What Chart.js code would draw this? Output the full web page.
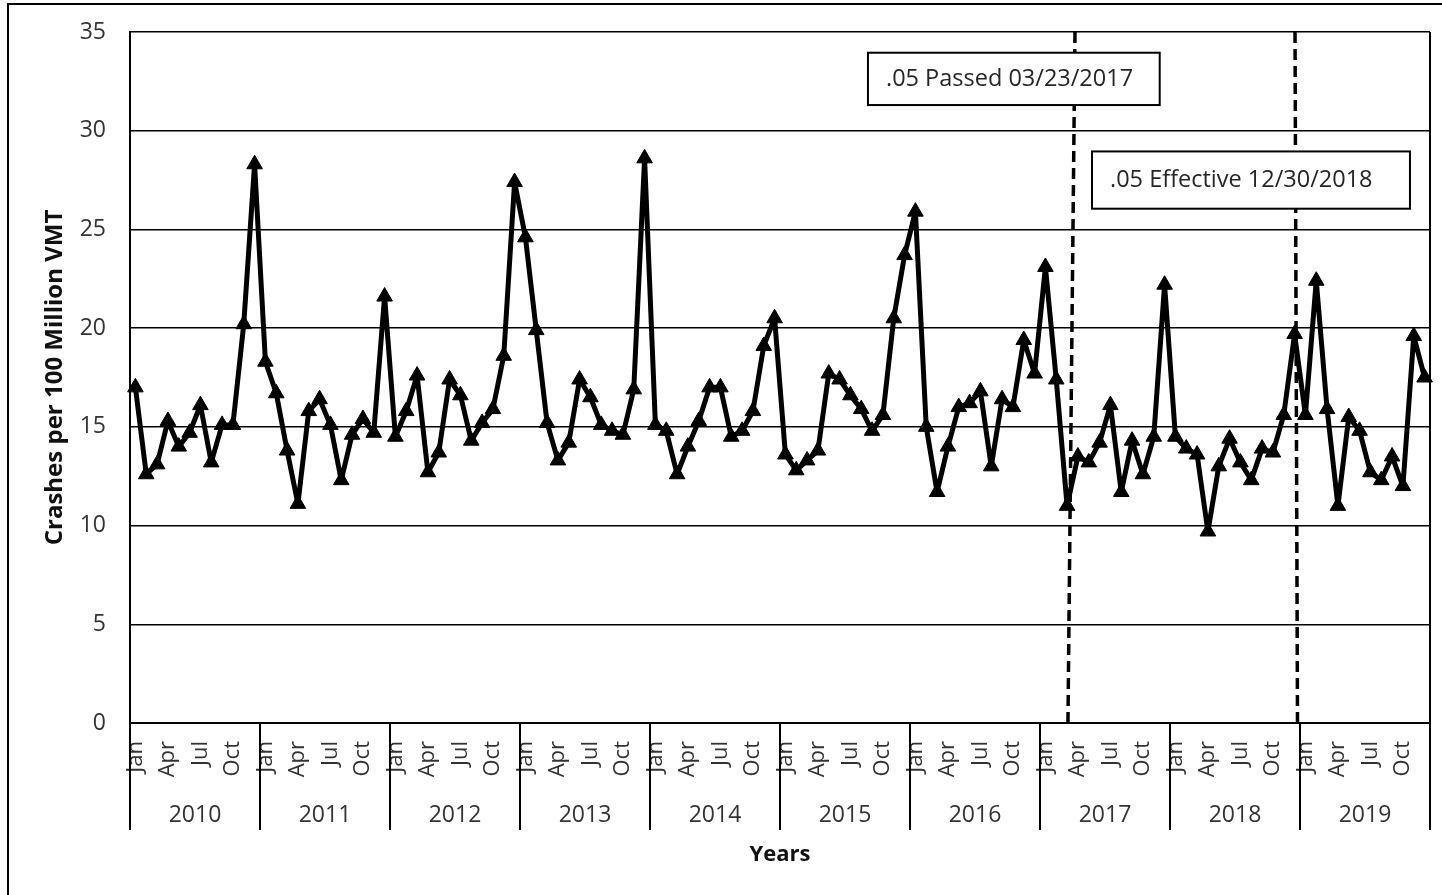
<!DOCTYPE html>
<html>
<head>
<meta charset="utf-8">
<title>Crashes per 100 Million VMT</title>
<script src="https://cdn.jsdelivr.net/npm/chart.js@4.4.1/dist/chart.umd.min.js"></script>
<style>
  html, body { margin: 0; padding: 0; background: #fff; }
  canvas { display: block; }
</style>
</head>
<body>
<canvas id="chart" width="1442" height="895"></canvas>
<script>
// Monthly crash rates, January 2010 through December 2019
const years = ['2010', '2011', '2012', '2013', '2014', '2015', '2016', '2017', '2018', '2019'];
const monthNames = ['Jan', 'Feb', 'Mar', 'Apr', 'May', 'Jun', 'Jul', 'Aug', 'Sep', 'Oct', 'Nov', 'Dec'];
const quarterLabels = ['Jan', 'Apr', 'Jul', 'Oct'];

const crashes2010 = [17.0, 12.6, 13.1, 15.3, 14.0, 14.7, 16.1, 13.2, 15.1, 15.1, 20.2, 28.3];
const crashes2011 = [18.3, 16.7, 13.8, 11.1, 15.8, 16.4, 15.1, 12.3, 14.6, 15.4, 14.7, 21.6];
const crashes2012 = [14.5, 15.8, 17.6, 12.7, 13.7, 17.4, 16.6, 14.3, 15.2, 15.9, 18.6, 27.4];
const crashes2013 = [24.6, 19.9, 15.2, 13.3, 14.2, 17.4, 16.5, 15.1, 14.8, 14.6, 16.9, 28.6];
const crashes2014 = [15.1, 14.8, 12.6, 14.0, 15.3, 17.0, 17.0, 14.5, 14.8, 15.8, 19.1, 20.5];
const crashes2015 = [13.6, 12.8, 13.3, 13.8, 17.7, 17.4, 16.6, 15.9, 14.8, 15.6, 20.5, 23.7];
const crashes2016 = [25.9, 15.0, 11.7, 14.0, 16.0, 16.2, 16.8, 13.0, 16.4, 16.0, 19.4, 17.7];
const crashes2017 = [23.1, 17.4, 11.0, 13.5, 13.2, 14.2, 16.1, 11.7, 14.3, 12.6, 14.5, 22.2];
const crashes2018 = [14.5, 13.9, 13.6, 9.7, 13.0, 14.4, 13.2, 12.3, 13.9, 13.7, 15.6, 19.7];
const crashes2019 = [15.6, 22.4, 15.9, 11.0, 15.5, 14.8, 12.7, 12.3, 13.5, 12.0, 19.6, 17.5];

const yTicks = [0, 5, 10, 15, 20, 25, 30, 35];

// Policy milestones (dashed markers, month index along the axis, top/bottom)
const eventLabels = ['.05 Passed 03/23/2017', '.05 Effective 12/30/2018'];
const eventLineTop = [86.73, 107.04];
const eventLineBottom = [86.08, 107.27];

// --- derived structures ---
const categories = [];
years.forEach(yr => monthNames.forEach(m => categories.push(m + ' ' + yr)));
const crashRates = [].concat(crashes2010, crashes2011, crashes2012, crashes2013, crashes2014,
                             crashes2015, crashes2016, crashes2017, crashes2018, crashes2019);

const FONT = '"Open Sans", "DejaVu Sans", sans-serif';
const TEXT = '#333333';

// Note boxes, anchored in axis units (month index, crash rate)
const noteBoxes = [
  { text: eventLabels[0], x0: 67.62, x1: 94.55, yTop: 33.95, yBottom: 31.3 },
  { text: eventLabels[1], x0: 88.3, x1: 117.65, yTop: 28.95, yBottom: 26.05 }
];

function zeroPadding(s) {
  s.paddingLeft = 0; s.paddingRight = 0; s.paddingTop = 0; s.paddingBottom = 0;
}

const decorations = {
  id: 'decorations',
  beforeDatasetsDraw(chart) {
    const { ctx, chartArea: a, scales: { x } } = chart;
    ctx.save();
    ctx.strokeStyle = '#000';
    ctx.lineWidth = 3.5;
    ctx.setLineDash([11, 6]);
    eventLineTop.forEach((top, i) => {
      ctx.beginPath();
      ctx.moveTo(x.getPixelForValue(top), a.top);
      ctx.lineTo(x.getPixelForValue(eventLineBottom[i]), a.bottom);
      ctx.stroke();
    });
    ctx.restore();
  },
  afterDatasetsDraw(chart) {
    const { ctx, scales: { x, y } } = chart;
    ctx.save();
    noteBoxes.forEach(b => {
      const l = x.getPixelForValue(b.x0), r = x.getPixelForValue(b.x1);
      const t = y.getPixelForValue(b.yTop), btm = y.getPixelForValue(b.yBottom);
      ctx.fillStyle = '#fff';
      ctx.fillRect(l, t, r - l, btm - t);
      ctx.strokeStyle = '#000';
      ctx.lineWidth = 2;
      ctx.strokeRect(l, t, r - l, btm - t);
      ctx.fillStyle = '#262626';
      ctx.font = '23.5px ' + FONT;
      ctx.textAlign = 'left';
      ctx.textBaseline = 'middle';
      ctx.fillText(b.text, l + 18, (t + btm) / 2);
    });
    ctx.restore();
  },
  afterDraw(chart) {
    const { ctx, chartArea: a, scales: { x } } = chart;
    ctx.save();
    ctx.strokeStyle = '#000';
    ctx.lineWidth = 2;
    // right edge of the plot
    ctx.beginPath();
    ctx.moveTo(a.right, a.top);
    ctx.lineTo(a.right, a.bottom);
    ctx.stroke();
    // year separators below the axis
    for (let i = 0; i <= years.length; i++) {
      const px = x.getPixelForValue(i * 12 - 0.5);
      ctx.beginPath();
      ctx.moveTo(px, a.bottom);
      ctx.lineTo(px, a.bottom + 107);
      ctx.stroke();
    }
    // year labels
    ctx.fillStyle = TEXT;
    ctx.font = '23px ' + FONT;
    ctx.textAlign = 'center';
    ctx.textBaseline = 'middle';
    years.forEach((yr, i) => {
      const cx = (x.getPixelForValue(i * 12 - 0.5) + x.getPixelForValue(i * 12 + 11.5)) / 2;
      ctx.fillText(yr, cx, a.bottom + 92);
    });
    // outer frame
    ctx.beginPath();
    ctx.moveTo(8, 895);
    ctx.lineTo(8, 4);
    ctx.lineTo(1442, 4);
    ctx.stroke();
    ctx.restore();
  }
};

new Chart(document.getElementById('chart'), {
  type: 'line',
  data: {
    labels: categories,
    datasets: [{
      data: crashRates,
      borderColor: '#000',
      backgroundColor: '#000',
      borderWidth: 5,
      borderJoinStyle: 'round',
      tension: 0,
      pointStyle: 'triangle',
      pointRadius: 9,
      pointBorderWidth: 1,
      pointBackgroundColor: '#000',
      pointBorderColor: '#000'
    }]
  },
  options: {
    responsive: false,
    animation: false,
    devicePixelRatio: 1,
    layout: { padding: { left: 0, right: 12, top: 32, bottom: 0 } },
    plugins: { legend: { display: false }, tooltip: { enabled: false } },
    scales: {
      x: {
        offset: true,
        grid: { display: false, drawTicks: false },
        border: { display: true, color: '#000', width: 2 },
        ticks: {
          autoSkip: false,
          minRotation: 90,
          maxRotation: 90,
          padding: 18,
          color: TEXT,
          font: { family: FONT, size: 22 },
          callback: (v, i) => (i % 3 === 0 ? quarterLabels[(i % 12) / 3] : '')
        },
        title: {
          display: true,
          text: 'Years',
          color: '#111',
          font: { family: FONT, size: 22, weight: 'bold' },
          padding: { top: 0, bottom: 27 }
        },
        afterFit(s) { s.height = 172; zeroPadding(s); }
      },
      y: {
        min: 0,
        max: 35,
        afterBuildTicks(s) { s.ticks = yTicks.map(v => ({ value: v })); },
        grid: { color: '#000', lineWidth: 1.5, drawTicks: false },
        border: { color: '#000', width: 2 },
        ticks: { padding: 24, color: TEXT, font: { family: FONT, size: 23 } },
        title: {
          display: true,
          text: 'Crashes per 100 Million VMT',
          color: '#111',
          font: { family: FONT, size: 24, weight: 'bold' },
          padding: { top: 41, bottom: 0 }
        },
        afterFit(s) { s.width = 130; zeroPadding(s); }
      }
    }
  },
  plugins: [decorations]
});
</script>
</body>
</html>
